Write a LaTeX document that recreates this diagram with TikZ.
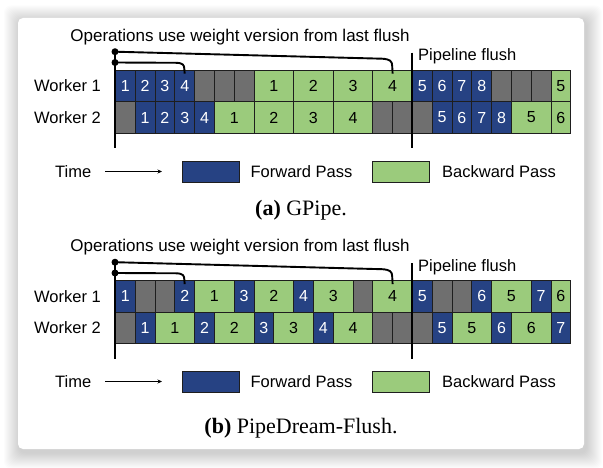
\documentclass[tikz,border=0pt]{standalone}
\usepackage{fontspec}
\setmainfont{Liberation Serif}
\newfontfamily\sansf{Liberation Sans}
\usetikzlibrary{calc,arrows.meta}
\definecolor{fwd}{HTML}{264283}
\definecolor{bwd}{HTML}{9BCB7C}
\definecolor{idle}{HTML}{6F6F6F}
\definecolor{edgec}{HTML}{1E1E1E}
\tikzset{
  cell/.style={draw=edgec, line width=0.8pt, rectangle, inner sep=0pt,
    minimum height=31.7pt, anchor=west, font=\sansf\fontsize{16}{16}\selectfont},
  cellF/.style={fill=fwd, text=white},
  cellB/.style={fill=bwd, text=black},
  cellI/.style={fill=idle},
  lbl/.style={font=\sansf\fontsize{16.5}{18}\selectfont, inner sep=0pt},
  ttl/.style={font=\sansf\fontsize{17}{19}\selectfont, inner sep=0pt},
  dotn/.style={circle, fill=black, inner sep=0pt, minimum size=7pt},
  vline/.style={line width=2.2pt},
  bracketline/.style={line width=1.9pt},
  legbox/.style={draw=edgec, line width=0.8pt, minimum width=57.5pt,
    minimum height=21pt, inner sep=0pt},
  timearrow/.style={-{Stealth[length=4.5pt,width=4pt]}, line width=0.7pt},
  captxt/.style={font=\fontsize{22}{24}\selectfont, inner sep=0pt},
}
\newcommand{\cellrow}[3]{%
  \foreach \t/\s/\w/\l [count=\i] in {#3} {%
    \node[cell, cell\t, minimum width=\w*19.8pt] (#1-\i) at ({115+\s*19.8}, #2) {\l};
  }}
\begin{document}
\begin{tikzpicture}[x=1pt,y=-1pt]
\useasboundingbox (0,0) rectangle (603,468);
% card with soft shadow
\foreach \k in {1,...,16}
  \fill[black, opacity=0.011, rounded corners=7pt]
    ({18-\k+2},{18-\k+3.5}) rectangle ({584+\k+2},{449+\k+3.5});
\fill[white, rounded corners=5pt] (18,18) rectangle (584,449);

% ================= panel (a) =================
\node[ttl] (a-title) at (240,36.7) {Operations use weight version from last flush};
\node[lbl, anchor=east] (a-w1) at (101,85.9) {Worker 1};
\node[lbl, anchor=east] (a-w2) at (101,117.5) {Worker 2};
\cellrow{a-r1}{85.9}{F/0/1/1, F/1/1/2, F/2/1/3, F/3/1/4, I/4/1/{}, I/5/1/{}, I/6/1/{},
  B/7/2/1, B/9/2/2, B/11/2/3, B/13/2/4, F/15/1/5, F/16/1/6, F/17/1/7, F/18/1/8,
  I/19/1/{}, I/20/1/{}, I/21/1/{}, B/22/1/5}
\cellrow{a-r2}{117.5}{I/0/1/{}, F/1/1/1, F/2/1/2, F/3/1/3, F/4/1/4, B/5/2/1, B/7/2/2,
  B/9/2/3, B/11/2/4, I/13/1/{}, I/14/1/{}, I/15/1/{}, F/16/1/5, F/17/1/6, F/18/1/7,
  F/19/1/8, B/20/2/5, B/22/1/6}
\node[dotn] (a-d1) at (115,51.7) {};
\node[dotn] (a-d2) at (115,62.5) {};
\coordinate (a-lbot) at (115,148);
\draw[vline] (a-d1.center) -- (a-lbot);
\coordinate (a-ftop) at (412,52.7);
\coordinate (a-fbot) at (412,148);
\draw[vline] (a-ftop) -- (a-fbot);
\node[lbl, anchor=west] (a-pf) at (418,56.7) {Pipeline flush};
\draw[bracketline] (a-d1.center) -- (382,58.7) .. controls (390,59.2) and (392.2,61) .. (392.2,66) -- ($(a-r1-11.north)+(0,4)$);
\draw[bracketline] (a-d2.center) -- (176,62.8) .. controls (183,63) and (184.3,65) .. (184.3,69) -- ($(a-r1-4.north)+(0,4)$);
% legend (a)
\node[lbl, anchor=west] (a-time) at (55,171.5) {Time};
\coordinate (a-as) at (105,171.5);
\coordinate (a-ae) at (162,171.5);
\draw[timearrow] (a-as) -- (a-ae);
\node[legbox, fill=fwd] (a-lf) at (211,171.5) {};
\node[lbl, anchor=west] (a-lft) at (250.4,171.5) {Forward Pass};
\node[legbox, fill=bwd] (a-lk) at (401,171.5) {};
\node[lbl, anchor=west] (a-lkt) at (442,171.5) {Backward Pass};
\node[captxt] (a-cap) at (301,210) {\textbf{(a)} GPipe.};

% ================= panel (b) =================
\node[ttl] (b-title) at (240,247.2) {Operations use weight version from last flush};
\node[lbl, anchor=east] (b-w1) at (101,296.4) {Worker 1};
\node[lbl, anchor=east] (b-w2) at (101,328) {Worker 2};
\cellrow{b-r1}{296.4}{F/0/1/1, I/1/1/{}, I/2/1/{}, F/3/1/2, B/4/2/1, F/6/1/3, B/7/2/2,
  F/9/1/4, B/10/2/3, I/12/1/{}, B/13/2/4, F/15/1/5, I/16/1/{}, I/17/1/{}, F/18/1/6,
  B/19/2/5, F/21/1/7, B/22/1/6}
\cellrow{b-r2}{328}{I/0/1/{}, F/1/1/1, B/2/2/1, F/4/1/2, B/5/2/2, F/7/1/3, B/8/2/3,
  F/10/1/4, B/11/2/4, I/13/1/{}, I/14/1/{}, I/15/1/{}, F/16/1/5, B/17/2/5, F/19/1/6,
  B/20/2/6, F/22/1/7}
\node[dotn] (b-d1) at (115,262.2) {};
\node[dotn] (b-d2) at (115,273) {};
\coordinate (b-lbot) at (115,358.5);
\draw[vline] (b-d1.center) -- (b-lbot);
\coordinate (b-ftop) at (412,263.2);
\coordinate (b-fbot) at (412,358.5);
\draw[vline] (b-ftop) -- (b-fbot);
\node[lbl, anchor=west] (b-pf) at (418,267.2) {Pipeline flush};
\draw[bracketline] (b-d1.center) -- (382,269.2) .. controls (390,269.7) and (392.2,271.5) .. (392.2,276.5) -- ($(b-r1-11.north)+(0,4)$);
\draw[bracketline] (b-d2.center) -- (176,273.3) .. controls (183,273.5) and (184.3,275.5) .. (184.3,279.5) -- ($(b-r1-4.north)+(0,4)$);
% legend (b)
\node[lbl, anchor=west] (b-time) at (55,381.5) {Time};
\coordinate (b-as) at (105,381.5);
\coordinate (b-ae) at (162,381.5);
\draw[timearrow] (b-as) -- (b-ae);
\node[legbox, fill=fwd] (b-lf) at (211,381.5) {};
\node[lbl, anchor=west] (b-lft) at (250.4,381.5) {Forward Pass};
\node[legbox, fill=bwd] (b-lk) at (401,381.5) {};
\node[lbl, anchor=west] (b-lkt) at (442,381.5) {Backward Pass};
\node[captxt] (b-cap) at (301,428.5) {\textbf{(b)} PipeDream-Flush.};
\end{tikzpicture}
\end{document}
